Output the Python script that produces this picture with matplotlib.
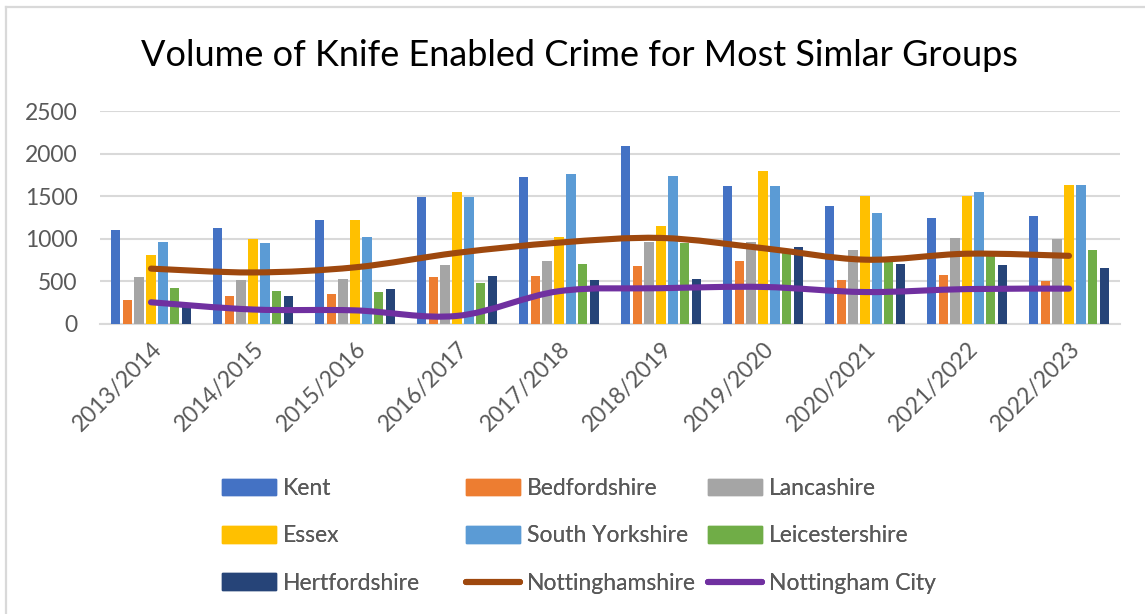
import numpy as np
import matplotlib
matplotlib.use("Agg")
import matplotlib.pyplot as plt
from matplotlib.path import Path
from matplotlib.patches import PathPatch, Patch
from matplotlib.lines import Line2D

plt.rcParams['font.family'] = ['Lato', 'DejaVu Sans']

# ---- data ----
years = ["2013/2014", "2014/2015", "2015/2016", "2016/2017", "2017/2018",
         "2018/2019", "2019/2020", "2020/2021", "2021/2022", "2022/2023"]

kent = [1100, 1125, 1215, 1490, 1725, 2095, 1615, 1380, 1250, 1265]
bedfordshire = [280, 325, 355, 550, 565, 675, 740, 515, 580, 500]
lancashire = [550, 515, 530, 690, 740, 965, 960, 870, 1010, 995]
essex = [805, 995, 1215, 1555, 1025, 1155, 1790, 1505, 1505, 1630]
south_yorkshire = [960, 945, 1025, 1490, 1755, 1740, 1615, 1300, 1555, 1630]
leicestershire = [420, 385, 370, 485, 710, 950, 835, 760, 820, 870]
hertfordshire = [220, 325, 405, 565, 515, 530, 900, 710, 690, 660]
nottinghamshire = [650, 605, 665, 835, 955, 1010, 890, 755, 825, 800]
nottingham_city = [255, 170, 160, 95, 385, 420, 435, 375, 410, 415]

bar_series = [
    ("Kent", kent, "#4472C4"),
    ("Bedfordshire", bedfordshire, "#ED7D31"),
    ("Lancashire", lancashire, "#A5A5A5"),
    ("Essex", essex, "#FFC000"),
    ("South Yorkshire", south_yorkshire, "#5B9BD5"),
    ("Leicestershire", leicestershire, "#70AD47"),
    ("Hertfordshire", hertfordshire, "#264478"),
]
line_series = [
    ("Nottinghamshire", nottinghamshire, "#9E480E"),
    ("Nottingham City", nottingham_city, "#7030A0"),
]

W, H = 1145, 614
fig = plt.figure(figsize=(W / 100, H / 100), dpi=100)
fig.patch.set_facecolor("white")

# chart-area border (top and left edges)
fig.add_artist(Line2D([6 / W, 6 / W], [0, 1 - 7 / H], color="#d9d9d9", lw=1.6))
fig.add_artist(Line2D([6 / W, 1], [1 - 7 / H, 1 - 7 / H], color="#d9d9d9", lw=1.6))

ax = fig.add_axes([100 / W, 1 - 324 / H, 1020 / W, 213 / H])
x = np.arange(len(years))

slot = 0.1167
bw = 0.092
for i, (name, vals, col) in enumerate(bar_series):
    ax.bar(x + (i - 3) * slot, vals, width=bw, color=col, zorder=2, label=name)


def smooth_path(xs, ys):
    """Bezier path through the points (Excel-style smoothed line)."""
    pts = np.column_stack([xs, ys]).astype(float)
    n = len(pts)
    verts = [pts[0]]
    codes = [Path.MOVETO]
    for k in range(n - 1):
        p0 = pts[k - 1] if k > 0 else pts[k]
        p1 = pts[k]
        p2 = pts[k + 1]
        p3 = pts[k + 2] if k + 2 < n else pts[k + 1]
        c1 = p1 + (p2 - p0) / 6.0
        c2 = p2 - (p3 - p1) / 6.0
        verts += [c1, c2, p2]
        codes += [Path.CURVE4] * 3
    return Path(verts, codes)


for name, vals, col in line_series:
    patch = PathPatch(smooth_path(x, vals), fill=False, edgecolor=col, lw=4.4,
                      capstyle="round", joinstyle="round", zorder=3)
    ax.add_patch(patch)

ax.set_xlim(-0.5, len(years) - 0.5)
ax.set_ylim(0, 2500)
ax.set_yticks(range(0, 2501, 500))
ax.yaxis.grid(True, color="#d9d9d9", lw=1.5, zorder=0)
ax.set_axisbelow(True)
for s in ["top", "right", "left"]:
    ax.spines[s].set_visible(False)
ax.spines["bottom"].set_color("#d9d9d9")
ax.spines["bottom"].set_linewidth(1.5)
ax.spines["bottom"].set_zorder(1)
ax.tick_params(axis="both", length=0, labelcolor="#595959", labelsize=16.5)
ax.tick_params(axis="y", pad=16)
ax.set_xticks(x)
ax.set_xticklabels(years, rotation=45, ha="right", va="top",
                   rotation_mode="anchor")
ax.tick_params(axis="x", pad=10)

fig.text(579 / W, 1 - 56 / H, "Volume of Knife Enabled Crime for Most Simlar Groups",
         ha="center", va="center", fontsize=26, color="black")

# legend: three columns, each placed at its own position
handles = {}
for name, vals, col in bar_series:
    handles[name] = Patch(facecolor=col, edgecolor=col)
for name, vals, col in line_series:
    handles[name] = Line2D([], [], color=col, lw=4.4, solid_capstyle="round")

columns = [
    (["Kent", "Essex", "Hertfordshire"], 222),
    (["Bedfordshire", "South Yorkshire", "Nottinghamshire"], 466),
    (["Lancashire", "Leicestershire", "Nottingham City"], 708),
]
for labels, px in columns:
    leg = fig.legend([handles[l] for l in labels], labels, loc="upper left",
                     bbox_to_anchor=(px / W, 1 - 478 / H), frameon=False,
                     fontsize=16.5, labelcolor="#595959", handlelength=2.35,
                     handleheight=0.75, handletextpad=0.3, labelspacing=1.15,
                     borderpad=0, borderaxespad=0)
    fig.add_artist(leg)

fig.savefig("out.png", dpi=100)
